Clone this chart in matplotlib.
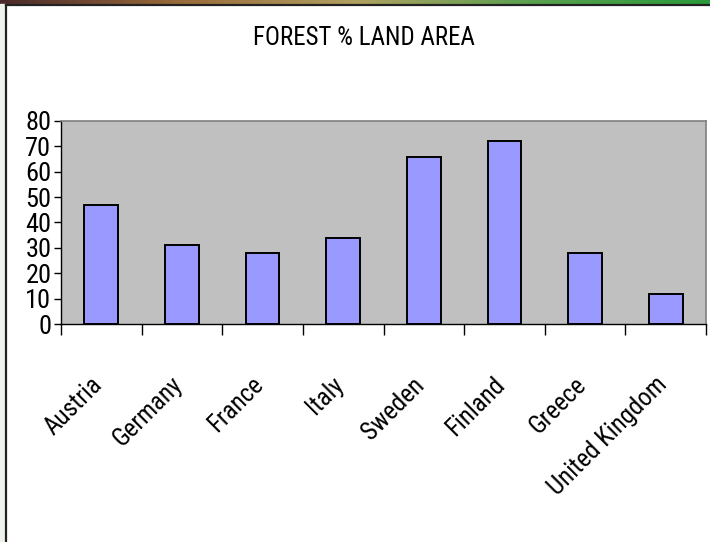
#!/usr/bin/env python3
"""Forest cover as % of land area, drawn in the old Excel chart style."""
import matplotlib
matplotlib.use("Agg")
import matplotlib.pyplot as plt
import matplotlib.transforms as mtransforms
import numpy as np
from matplotlib.colors import LinearSegmentedColormap
from matplotlib.patches import Rectangle

countries = ["Austria", "Germany", "France", "Italy", "Sweden",
             "Finland", "Greece", "United Kingdom"]
forest_pct = [47, 31, 28, 34, 66, 72, 28, 12]
yticks = [0, 10, 20, 30, 40, 50, 60, 70, 80]

# narrow sans, close to the squeezed Arial of the original
FONT = ["Roboto Condensed", "Liberation Sans", "DejaVu Sans"]
plt.rcParams["font.family"] = FONT

fig = plt.figure(figsize=(7.1, 5.42), dpi=100)

# slide frame: coloured strip on top, pale strip on the left, dark border
strip = fig.add_axes([0, 0.993, 1, 0.007])
strip.imshow(np.linspace(0, 1, 256)[None, :], aspect="auto",
             cmap=LinearSegmentedColormap.from_list(
                 "strip", ["#4a2a2a", "#9a6a3a", "#b0a060", "#5aa050", "#2a9a3a"]))
strip.axis("off")
fig.patches.append(Rectangle((0, 0), 0.007, 0.993, transform=fig.transFigure,
                             color="#eef4ec", zorder=0))
fig.add_artist(plt.Line2D([0.0085, 0.0085], [0, 0.991], color="#222222",
                          lw=1.6, transform=fig.transFigure))
fig.add_artist(plt.Line2D([0.0085, 1], [0.991, 0.991], color="#222222",
                          lw=1.6, transform=fig.transFigure))

ax = fig.add_axes([0.0859, 0.4022, 0.9085, 0.3746])
ax.set_facecolor("#c0c0c0")

x = range(len(countries))
ax.bar(x, forest_pct, width=0.42, color="#9999ff", edgecolor="black",
       linewidth=1.4, zorder=3)

ax.set_xlim(-0.5, len(countries) - 0.5)
ax.set_ylim(0, 80)
ax.set_yticks(yticks)
ax.set_yticklabels([str(v) for v in yticks], fontsize=19)
ax.tick_params(axis="y", direction="out", length=5, width=1, pad=2)

# category boundaries get the tick marks, names sit at the centres
ax.set_xticks([i - 0.5 for i in range(len(countries) + 1)])
ax.set_xticklabels([])
ax.tick_params(axis="x", which="major", direction="out", length=8, width=1)
ax.set_xticks(list(x), minor=True)
ax.set_xticklabels(countries, minor=True, fontsize=18, rotation=45,
                   ha="right", va="top")
ax.tick_params(axis="x", which="minor", length=0, pad=35)
nudge = mtransforms.ScaledTranslation(4 / 72, 0, fig.dpi_scale_trans)
for lab in ax.get_xticklabels(minor=True):
    lab.set_transform(lab.get_transform() + nudge)

for side in ("top", "right"):
    ax.spines[side].set_color("#808080")
    ax.spines[side].set_linewidth(1.2)
for side in ("left", "bottom"):
    ax.spines[side].set_color("black")
    ax.spines[side].set_linewidth(1)

fig.text(0.513, 0.93, "FOREST % LAND AREA", ha="center", va="center",
         fontsize=18)

fig.savefig("out.png", dpi=100)
